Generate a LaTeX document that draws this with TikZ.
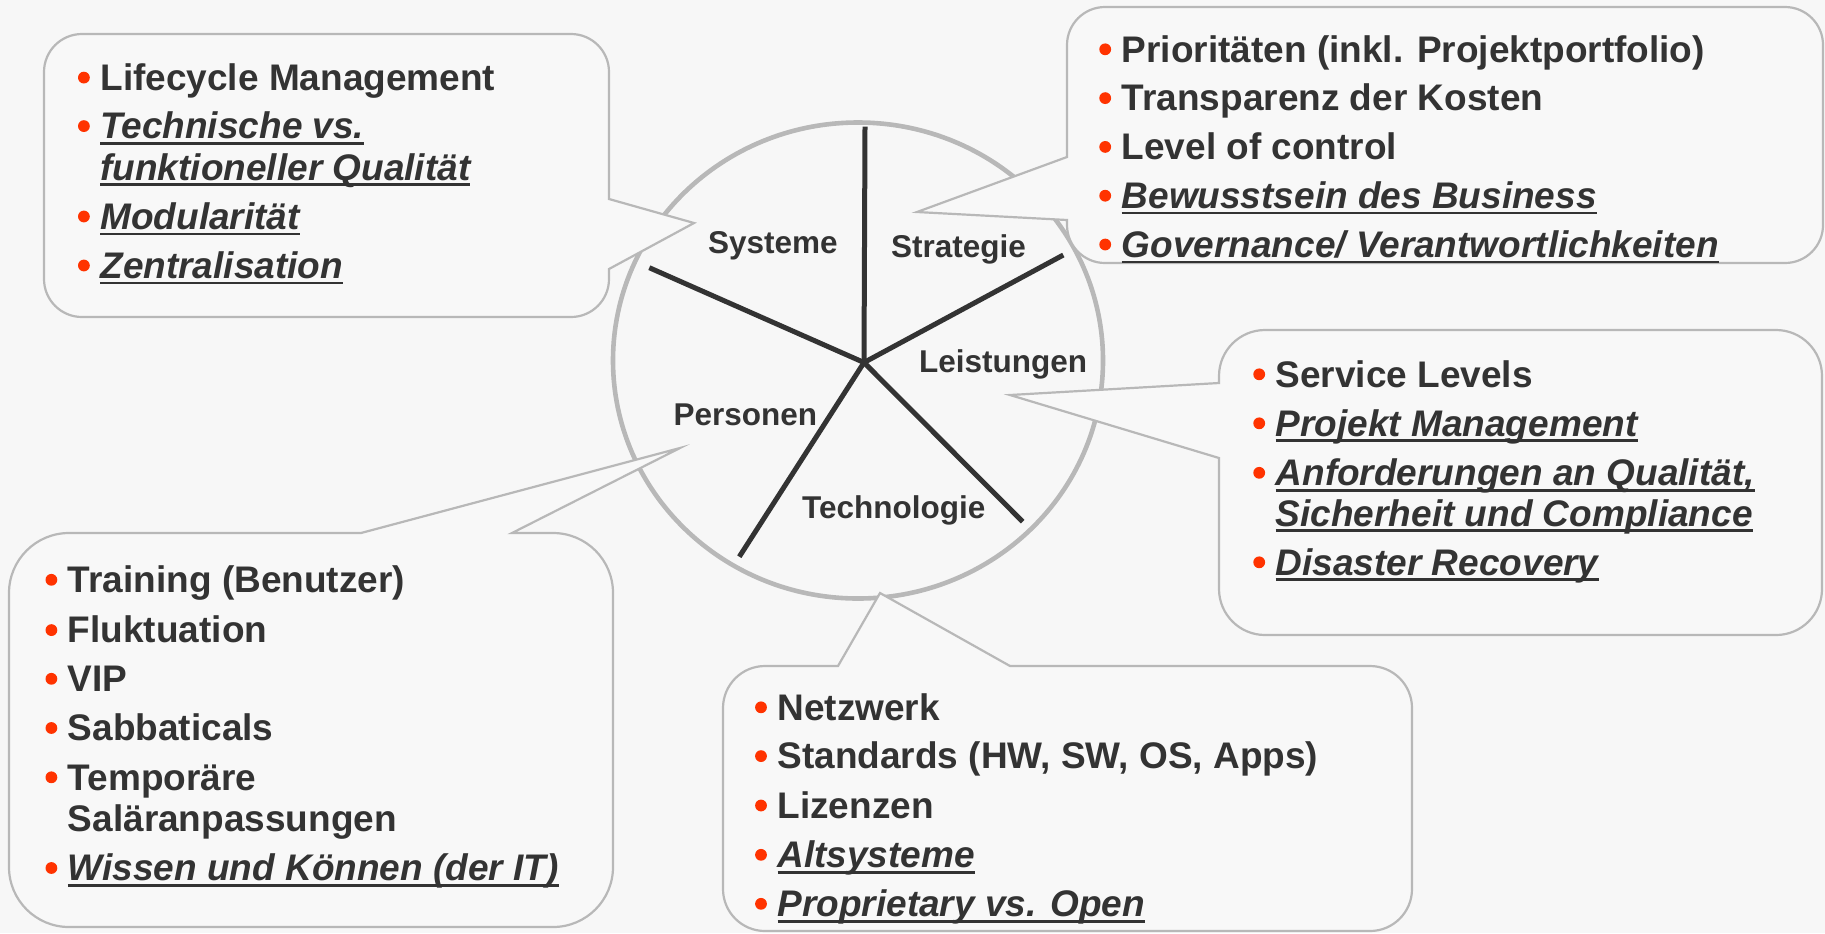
\documentclass[tikz,border=0pt]{standalone}
\usepackage{fontspec}
\setmainfont{Liberation Sans}
\definecolor{bg}{HTML}{F7F7F7}
\definecolor{boxfill}{HTML}{F8F8F8}
\definecolor{boxline}{HTML}{B8B8B8}
\definecolor{txt}{HTML}{333333}
\definecolor{bul}{HTML}{FF3300}
\newcommand{\itemfnt}{\fontsize{18.5pt}{20pt}\selectfont\bfseries}
\newcommand{\segfnt}{\fontsize{15.75pt}{18pt}\selectfont\bfseries}
% plain item with bullet
\newcommand{\bitem}[4]{%
  \node[dot] (#1b) at ({#2-16.5},{#3-12.7}) {};
  \node[item] (#1) at (#2,#3) {#4};}
% underlined italic item, with (#5=1) or without (#5=0) bullet
\newcommand{\uitem}[5]{%
  \ifnum#5=1 \node[dot] (#1b) at ({#2-16.5},{#3-12.7}) {};\fi
  \node[item, font=\itemfnt\itshape] (#1) at (#2,#3) {#4};
  \draw[ulin] ([yshift=-2.35pt]#1.base west) -- ([yshift=-2.35pt]#1.base east);}
\newcommand{\citem}[4]{\node[item] (#1) at (#2,#3) {#4};}
\begin{document}
\begin{tikzpicture}[x=0.5pt,y=-0.5pt,
  callout/.style={draw=boxline, fill=boxfill, line width=1.1pt, line join=miter},
  item/.style={anchor=base west, inner sep=0pt, outer sep=0pt, text=txt, font=\itemfnt},
  dot/.style={circle, fill=bul, inner sep=0pt, minimum size=5.9pt},
  ulin/.style={draw=txt, line width=1.3pt},
  spoke/.style={draw=txt, line width=2.5pt},
  seg/.style={anchor=base, inner sep=0pt, text=txt, font=\segfnt}]
\fill[bg] (0,0) rectangle (1825,933);
\useasboundingbox (0,0) rectangle (1825,933);

% wheel
\draw[boxline, line width=2.3pt] (858,360.5) ellipse [x radius=245, y radius=238];

% callouts: tip -- foot2 [rounded] -- corners [sharp] -- foot1 -- cycle
\path[callout] (694,223) -- (609,269) [rounded corners=19pt] -- (609,317) -- (44,317) -- (44,34) -- (609,34) [sharp corners] -- (609,199) -- cycle;
\path[callout] (917,212) -- (1067,220) [rounded corners=19pt] -- (1067,263) -- (1823,263) -- (1823,7) -- (1067,7) [sharp corners] -- (1067,157) -- cycle;
\path[callout] (1010,395) -- (1219,458) [rounded corners=23pt] -- (1219,635) -- (1822,635) -- (1822,330) -- (1219,330) [sharp corners] -- (1219,383) -- cycle;
\path[callout] (680,448) -- (512,533) [rounded corners=30pt] -- (613,533) -- (613,927) -- (9,927) -- (9,533) [sharp corners] -- (361,533) -- cycle;
\path[callout] (880,593) -- (1010,666) [rounded corners=21pt] -- (1412,666) -- (1412,931) -- (723,931) -- (723,666) [sharp corners] -- (838,666) -- cycle;

% spokes
\coordinate (hub) at (864,362.5);
\coordinate (pUp) at (865,126.7);
\coordinate (pUR) at (1063.3,255);
\coordinate (pLR) at (1022.7,521.7);
\coordinate (pLL) at (739.3,556.7);
\coordinate (pUL) at (649.3,267.7);
\foreach \p in {pUp,pUR,pLR,pLL,pUL} \draw[spoke] (hub) -- (\p);

% segment labels
\node[seg] (systeme) at (772.8,253) {Systeme};
\node[seg] (strategie) at (958.5,257) {Strategie};
\node[seg] (leistungen) at (1003,372.7) {Leistungen};
\node[seg] (personen) at (745.3,425) {Personen};
\node[seg] (technologie) at (893.8,518.3) {Technologie};

% Systeme box
\bitem{s1}{100.4}{90.3}{Lifecycle Management}
\uitem{s2}{100.4}{138.8}{Technische vs.}{1}
\uitem{s2b}{100.4}{180}{funktioneller Qualität}{0}
\uitem{s3}{100.4}{229.2}{Modularität}{1}
\uitem{s4}{100.4}{278.2}{Zentralisation}{1}

% Strategie box
\bitem{r1}{1121.7}{62}{Prioritäten (inkl. Projektportfolio)}
\bitem{r2}{1121.7}{110.8}{Transparenz der Kosten}
\bitem{r3}{1121.7}{159.6}{Level of control}
\uitem{r4}{1121.7}{208.4}{Bewusstsein des Business}{1}
\uitem{r5}{1121.7}{257.2}{Governance/ Verantwortlichkeiten}{1}

% Leistungen box
\bitem{l1}{1275.7}{387}{Service Levels}
\uitem{l2}{1275.7}{436}{Projekt Management}{1}
\uitem{l3}{1275.7}{485.5}{Anforderungen an Qualität,}{1}
\uitem{l3b}{1275.7}{526}{Sicherheit und Compliance}{0}
\uitem{l4}{1275.7}{575}{Disaster Recovery}{1}

% Personen box
\bitem{p1}{67.9}{592.5}{Training (Benutzer)}
\bitem{p2}{67.9}{642.8}{Fluktuation}
\bitem{p3}{67.9}{691.5}{VIP}
\bitem{p4}{67.9}{740.7}{Sabbaticals}
\bitem{p5}{67.9}{790}{Temporäre}
\citem{p5b}{67.9}{831}{Saläranpassungen}
\uitem{p6}{67.9}{880.7}{Wissen und Können (der IT)}{1}

% Technologie box
\bitem{t1}{777.5}{720}{Netzwerk}
\bitem{t2}{777.5}{768.8}{Standards (HW, SW, OS, Apps)}
\bitem{t3}{777.5}{818.2}{Lizenzen}
\uitem{t4}{777.5}{867.5}{Altsysteme}{1}
\uitem{t5}{777.5}{916.5}{Proprietary vs. Open}{1}
\end{tikzpicture}
\end{document}
